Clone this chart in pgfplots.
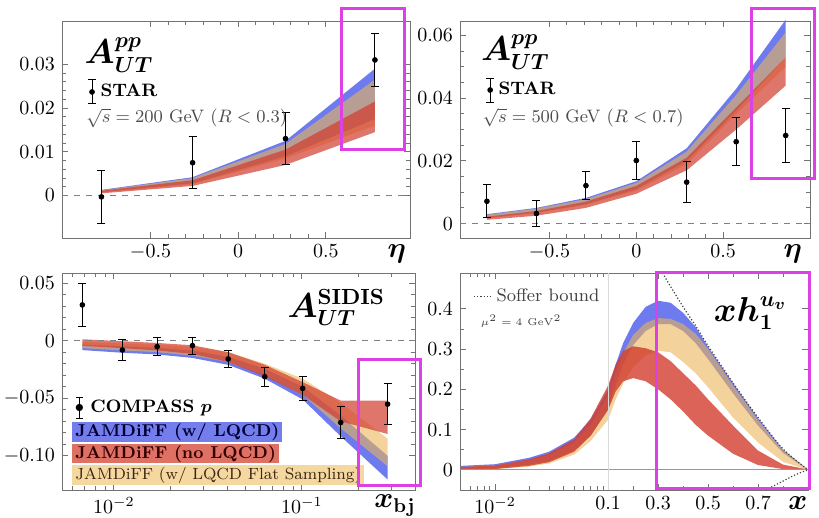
\documentclass[border=0pt]{standalone}
\usepackage{pgfplots}
\usepackage{pgfplotstable}
\pgfplotsset{compat=1.18}
\usepgfplotslibrary{fillbetween}
\usepackage{amsmath}
\usepackage{bm}

\definecolor{jblue}{RGB}{85,100,235}
\definecolor{jtan}{RGB}{235,180,90}
\definecolor{jred}{RGB}{210,60,45}
\definecolor{lblue}{RGB}{115,125,235}
\definecolor{lred}{RGB}{222,112,100}
\definecolor{ltan}{RGB}{245,215,160}
\definecolor{mag}{RGB}{220,65,230}

\pgfplotsset{
  jam/.style={scale only axis, clip=false, scaled y ticks=false, scaled x ticks=false,
    axis line style={black!55}, every tick/.style={black!55},
    major tick length=3pt, minor tick length=1.8pt,
    tick label style={font=\normalsize}, legend cell align=left},
  errimg/.style={legend image code/.code={
    \draw[black,line width=0.5pt] (0.3em,-0.6em) -- (0.3em,0.6em);
    \draw[black,line width=0.5pt] (0.1em,-0.6em) -- (0.5em,-0.6em) (0.1em,0.6em) -- (0.5em,0.6em);
    \fill[black] (0.3em,0) circle (1.2pt);}},
  soffimg/.style={legend image code/.code={
    \draw[black!75,densely dotted,line width=0.6pt] (0pt,0pt) -- (9pt,0pt);}},
  dat/.style={black, only marks, mark=*, mark size=1.2pt,
    error bars/.cd, y dir=both, y explicit,
    error bar style={line width=0.5pt,black},
    error mark options={rotate=90, mark size=2pt, line width=0.5pt, black}},
}

% band: table, name, colour, opacity
\newcommand\band[4]{%
  \addplot[draw=none,forget plot,name path=#2u] table[x=x,y=hi]{#1};
  \addplot[draw=none,forget plot,name path=#2l] table[x=x,y=lo]{#1};
  \addplot[fill=#3,fill opacity=#4,draw=none,forget plot] fill between[of=#2u and #2l];
}
% same, on the log (x<0.1) / linear (x>0.1) axis of the h1 panel
\newcommand\bandr[4]{%
  \addplot[draw=none,forget plot,name path=#2u] table[x expr={(\thisrow{x}<0.1)*log10(\thisrow{x})+(1-(\thisrow{x}<0.1))*(-1+(\thisrow{x}-0.1)*2.207)},y=hi]{#1};
  \addplot[draw=none,forget plot,name path=#2l] table[x expr={(\thisrow{x}<0.1)*log10(\thisrow{x})+(1-(\thisrow{x}<0.1))*(-1+(\thisrow{x}-0.1)*2.207)},y=lo]{#1};
  \addplot[fill=#3,fill opacity=#4,draw=none,forget plot] fill between[of=#2u and #2l];
}
% error-bar key built from rules (the log axis distorts tikz keys)
\newcommand\errkey{%
  \makebox[0.5em]{\rule[-0.35em]{0.5pt}{1.2em}}%
  \hspace{-0.5em}\makebox[0.5em]{\raisebox{-0.35em}{\rule{0.4em}{0.5pt}}}%
  \hspace{-0.5em}\makebox[0.5em]{\raisebox{0.8em}{\rule{0.4em}{0.5pt}}}%
  \hspace{-0.5em}\makebox[0.5em]{$\bullet$}}

% ---- STAR 200 GeV
\pgfplotstableread{
x y e
-0.78 -0.0003 0.0061
-0.26 0.0075 0.0060
0.27 0.0130 0.0060
0.78 0.0310 0.0060
}\tld
\pgfplotstableread{
x lo hi
-0.78 0.0008 0.0013
-0.26 0.0028 0.0042
0.27 0.0090 0.0125
0.78 0.0175 0.0290
}\tlb
\pgfplotstableread{
x lo hi
-0.78 0.0007 0.0012
-0.26 0.0026 0.0040
0.27 0.0085 0.0118
0.78 0.0160 0.0265
}\tlt
\pgfplotstableread{
x lo hi
-0.78 0.0005 0.0011
-0.26 0.0022 0.0035
0.27 0.0070 0.0105
0.78 0.0145 0.0215
}\tlr

% ---- STAR 500 GeV
\pgfplotstableread{
x y e
-0.86 0.0071 0.0053
-0.575 0.0032 0.0040
-0.29 0.0121 0.0044
0.0 0.0201 0.0062
0.29 0.0132 0.0065
0.575 0.0261 0.0077
0.86 0.0281 0.0085
}\trd
\pgfplotstableread{
x lo hi
-0.86 0.0018 0.0030
-0.575 0.0035 0.0050
-0.29 0.0062 0.0082
0.0 0.0110 0.0135
0.29 0.0200 0.0240
0.575 0.0360 0.0430
0.86 0.0530 0.0650
}\trb
\pgfplotstableread{
x lo hi
-0.86 0.0017 0.0028
-0.575 0.0033 0.0048
-0.29 0.0060 0.0078
0.0 0.0105 0.0130
0.29 0.0190 0.0230
0.575 0.0350 0.0410
0.86 0.0500 0.0610
}\trt
\pgfplotstableread{
x lo hi
-0.86 0.0012 0.0022
-0.575 0.0025 0.0040
-0.29 0.0050 0.0070
0.0 0.0095 0.0120
0.29 0.0170 0.0210
0.575 0.0300 0.0370
0.86 0.0440 0.0530
}\trr

% ---- COMPASS p
\pgfplotstableread{
x y e
0.0068 0.0310 0.0186
0.0111 -0.0081 0.0092
0.0170 -0.0052 0.0075
0.0262 -0.0043 0.0073
0.0406 -0.0159 0.0073
0.0635 -0.0313 0.0084
0.101 -0.0414 0.0102
0.161 -0.0710 0.0135
0.286 -0.0551 0.0177
}\bld
\pgfplotstableread{
x lo hi
0.0068 -0.0082 -0.0035
0.0111 -0.0105 -0.0050
0.0170 -0.0120 -0.0062
0.0262 -0.0150 -0.0085
0.0406 -0.0210 -0.0140
0.0635 -0.0330 -0.0245
0.101 -0.0510 -0.0400
0.161 -0.0830 -0.0650
0.286 -0.1205 -0.1000
}\blb
\pgfplotstableread{
x lo hi
0.0068 -0.0065 -0.0010
0.0111 -0.0085 -0.0025
0.0170 -0.0100 -0.0035
0.0262 -0.0130 -0.0055
0.0406 -0.0185 -0.0100
0.0635 -0.0300 -0.0200
0.101 -0.0470 -0.0330
0.161 -0.0760 -0.0540
0.286 -0.1090 -0.0850
}\blt
\pgfplotstableread{
x lo hi
0.0068 -0.0045 0.0012
0.0111 -0.0065 -0.0005
0.0170 -0.0085 -0.0020
0.0262 -0.0115 -0.0040
0.0406 -0.0185 -0.0100
0.0635 -0.0310 -0.0210
0.101 -0.0470 -0.0360
0.161 -0.0700 -0.0520
0.286 -0.0810 -0.0520
}\blr

% ---- x h1^uv
\pgfplotstableread{
x lo hi
0.005 0.002 0.010
0.01 0.004 0.014
0.02 0.013 0.030
0.03 0.022 0.045
0.05 0.048 0.080
0.07 0.085 0.125
0.1 0.150 0.200
0.13 0.210 0.262
0.16 0.262 0.315
0.2 0.310 0.365
0.25 0.345 0.405
0.3 0.362 0.420
0.35 0.362 0.415
0.4 0.345 0.390
0.45 0.315 0.355
0.5 0.275 0.305
0.6 0.190 0.215
0.7 0.110 0.128
0.8 0.042 0.050
0.9 0.000 0.001
}\brb
\pgfplotstableread{
x lo hi
0.005 0.000 0.007
0.01 0.002 0.011
0.02 0.008 0.024
0.03 0.016 0.037
0.05 0.038 0.068
0.07 0.072 0.112
0.1 0.125 0.185
0.13 0.175 0.240
0.16 0.215 0.290
0.2 0.255 0.335
0.25 0.285 0.365
0.3 0.296 0.377
0.35 0.292 0.375
0.4 0.268 0.362
0.45 0.240 0.338
0.5 0.205 0.300
0.6 0.130 0.210
0.7 0.068 0.124
0.8 0.020 0.048
0.9 0.000 0.001
}\brt
\pgfplotstableread{
x lo hi
0.005 0.000 0.007
0.01 0.002 0.011
0.02 0.010 0.026
0.03 0.019 0.041
0.05 0.045 0.076
0.07 0.085 0.128
0.1 0.150 0.210
0.13 0.195 0.262
0.16 0.220 0.295
0.2 0.228 0.307
0.25 0.220 0.302
0.3 0.200 0.292
0.35 0.175 0.270
0.4 0.145 0.240
0.45 0.112 0.210
0.5 0.085 0.175
0.6 0.040 0.110
0.7 0.012 0.048
0.8 0.002 0.013
0.9 0.000 0.001
}\brr
\pgfplotstableread{
x y
0.318 0.489
0.35 0.455
0.4 0.405
0.45 0.358
0.5 0.308
0.6 0.216
0.7 0.130
0.8 0.052
0.9 0.000
}\soff
\pgfplotstableread{
x y
0.73 -0.05
0.8 -0.028
0.85 -0.012
0.9 0.000
}\sofflo

\begin{document}
\begin{tikzpicture}

% top left
\begin{axis}[jam, at={(31pt,140pt)}, anchor=south west, width=174pt, height=108.5pt,
  xmin=-1.005, xmax=0.98, ymin=-0.0097, ymax=0.0399,
  xtick={-0.5,0,0.5}, xticklabels={$-0.5$,$0$,$0.5$},
  ytick={0,0.01,0.02,0.03}, yticklabels={$0$,$0.01$,$0.02$,$0.03$},
  minor x tick num=4, minor y tick num=4,
  legend style={draw=none, fill=none, at={(0.055,0.673)}, anchor=west, font=\small}]
  \addplot[black!50, dashed, forget plot] coordinates {(-1.005,0) (0.98,0)};
  \band{\tlb}{tlb}{jblue}{0.85}
  \band{\tlt}{tlt}{jtan}{0.6}
  \band{\tlr}{tlr}{jred}{0.7}
  \addplot[errimg, dat] table[x=x,y=y,y error=e]{\tld};
  \addlegendentry{\textbf{STAR}}
  \node[anchor=west, font=\fontsize{16}{18}\selectfont] at (rel axis cs:0.045,0.843) {$\bm{A^{pp}_{UT}}$};
  \node[anchor=west, font=\small, text=black!70] at (rel axis cs:0.05,0.553) {$\sqrt{s} = 200$ GeV $(R<0.3)$};
  \node[anchor=base, font=\Large] at (rel axis cs:0.962,0) [yshift=-10pt] {$\bm{\eta}$};
\end{axis}

% top right
\begin{axis}[jam, at={(230pt,140pt)}, anchor=south west, width=175pt, height=108.5pt,
  xmin=-1.015, xmax=1.0, ymin=-0.0046, ymax=0.0646,
  xtick={-0.5,0,0.5}, xticklabels={$-0.5$,$0$,$0.5$},
  ytick={0,0.02,0.04,0.06}, yticklabels={$0$,$0.02$,$0.04$,$0.06$},
  minor x tick num=4, minor y tick num=3,
  legend style={draw=none, fill=none, at={(0.055,0.682)}, anchor=west, font=\small}]
  \addplot[black!50, dashed, forget plot] coordinates {(-1.015,0) (1.0,0)};
  \band{\trb}{trb}{jblue}{0.85}
  \band{\trt}{trt}{jtan}{0.6}
  \band{\trr}{trr}{jred}{0.7}
  \addplot[errimg, dat] table[x=x,y=y,y error=e]{\trd};
  \addlegendentry{\textbf{STAR}}
  \node[anchor=west, font=\fontsize{16}{18}\selectfont] at (rel axis cs:0.04,0.856) {$\bm{A^{pp}_{UT}}$};
  \node[anchor=west, font=\small, text=black!70] at (rel axis cs:0.045,0.554) {$\sqrt{s} = 500$ GeV $(R<0.7)$};
  \node[anchor=base, font=\Large] at (rel axis cs:0.951,0) [yshift=-10pt] {$\bm{\eta}$};
\end{axis}

% bottom left
\begin{axis}[jam, at={(31pt,14pt)}, anchor=south west, width=176.5pt, height=108.5pt,
  xmode=log, xmin=0.0053, xmax=0.4, ymin=-0.1296, ymax=0.0587,
  ytick={-0.1,-0.05,0,0.05}, yticklabels={$-0.10$,$-0.05$,$0$,$0.05$},
  minor y tick num=4]
  \addplot[black!50, dashed, forget plot] coordinates {(0.0053,0) (0.4,0)};
  \band{\blb}{blb}{jblue}{0.85}
  \band{\blt}{blt}{jtan}{0.6}
  \band{\blr}{blr}{jred}{0.7}
  \addplot[forget plot, dat] table[x=x,y=y,y error=e]{\bld};
  \node[anchor=west, font=\small, inner sep=0pt] at (rel axis cs:0.036,0.378) {\errkey\ \textbf{COMPASS} $\bm{p}$};
  \node[anchor=east, font=\fontsize{16}{18}\selectfont] at (rel axis cs:0.935,0.839) {$\bm{A}^{\mathbf{SIDIS}}_{\bm{UT}}$};
  \node[anchor=base, font=\Large] at (rel axis cs:0.943,0) [yshift=-9pt] {$\bm{x}_{\mathbf{bj}}$};
  \node[anchor=west, inner xsep=1.5pt, inner ysep=0.5pt, text height=6.8pt, text depth=2pt, fill=lblue, font=\fontsize{8.6}{10}\selectfont\bfseries, text=black!80!blue] at (rel axis cs:0.028,0.267) {JAMDiFF (w/ LQCD)};
  \node[anchor=west, inner xsep=1.5pt, inner ysep=0.5pt, text height=6.8pt, text depth=2pt, fill=lred, font=\fontsize{8.6}{10}\selectfont\bfseries, text=black!80!red] at (rel axis cs:0.028,0.168) {JAMDiFF (no LQCD)};
  \node[anchor=west, inner xsep=1.5pt, inner ysep=0.5pt, text height=6.8pt, text depth=2pt, fill=ltan, font=\fontsize{8.1}{10}\selectfont, text=black!70!brown] at (rel axis cs:0.028,0.069) {JAMDiFF (w/ LQCD Flat Sampling)};
\end{axis}

% bottom right
\begin{axis}[jam, at={(230pt,14pt)}, anchor=south west, width=174pt, height=108.5pt,
  xmin=-2.31, xmax=0.766, ymin=-0.05, ymax=0.489,
  xtick={-2,-1,-0.5586,-0.1172,0.3242}, xticklabels={$10^{-2}$,$0.1$,$0.3$,$0.5$,$0.7$},
  minor xtick={-2.2218,-2.1549,-2.0969,-2.0458,-1.6990,-1.5229,-1.3979,-1.3010,-1.2218,-1.1549,-1.0969,-1.0458,-0.7793,-0.3379,0.1035,0.5449},
  ytick={0,0.1,0.2,0.3,0.4}, yticklabels={$0$,$0.1$,$0.2$,$0.3$,$0.4$},
  minor y tick num=1,
  legend style={draw=none, fill=none, at={(0.02,0.891)}, anchor=west, font=\small, text=black!75}]
  \addplot[black!40, forget plot] coordinates {(-2.31,0) (0.766,0)};
  \addplot[black!15, forget plot] coordinates {(-1,-0.05) (-1,0.489)};
  \bandr{\brb}{brb}{jblue}{0.85}
  \bandr{\brt}{brt}{jtan}{0.6}
  \bandr{\brr}{brr}{jred}{0.8}
  \addplot[soffimg, black!75, densely dotted, line width=0.6pt, smooth]
    table[x expr={-1+(\thisrow{x}-0.1)*2.207}, y=y]{\soff};
  \addlegendentry{Soffer bound}
  \addplot[black!75, densely dotted, line width=0.6pt, smooth, forget plot]
    table[x expr={-1+(\thisrow{x}-0.1)*2.207}, y=y]{\sofflo};
  \node[anchor=west, font=\tiny, text=black!75] at (rel axis cs:0.04,0.776) {$\mu^2 = 4~\mathrm{GeV}^2$};
  \node[anchor=east, font=\fontsize{16}{18}\selectfont] at (rel axis cs:0.96,0.816) {$\bm{x h_1^{u_v}}$};
  \node[anchor=base, font=\Large] at (rel axis cs:0.971,0) [yshift=-10pt] {$\bm{x}$};
\end{axis}

% highlight boxes
\draw[mag, line width=1.5pt] (170.8pt,184pt) rectangle (202.2pt,254.8pt);
\draw[mag, line width=1.5pt] (375.8pt,169.8pt) rectangle (407.2pt,254.8pt);
\draw[mag, line width=1.5pt] (179pt,16.2pt) rectangle (210pt,79pt);
\draw[mag, line width=1.5pt] (328.3pt,14.5pt) rectangle (404.7pt,122.7pt);

\pgfresetboundingbox
\useasboundingbox (0,0) rectangle (409.5pt,259pt);
\end{tikzpicture}
\end{document}
